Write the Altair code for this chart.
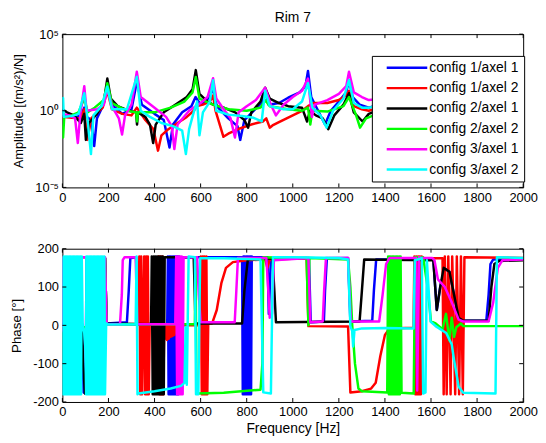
import altair as alt
import pandas as pd

SERIES = ["config 1/axel 1", "config 1/axel 2", "config 2/axel 1",
          "config 2/axel 2", "config 3/axel 1", "config 3/axel 2"]
COLORS = ["#0000ff", "#ff0000", "#000000", "#00ff00", "#ff00ff", "#00ffff"]

X_TICKS = [0, 200, 400, 600, 800, 1000, 1200, 1400, 1600, 1800, 2000]
AMP_TICKS = [1e-5, 1, 1e5]
PHASE_TICKS = [-200, -100, 0, 100, 200]

# ---------------- amplitude (m/s^2)/N ----------------
blue_amp_f = [0,30,60,80,95,105,125,138,150,175,195,215,260,300,323,345,400,440,465,480,
              520,560,578,600,640,654,670,720,760,772,790,830,870,880,895,940,980,1030,1055,1066,
              1080,1110,1140,1165,1200,1232,1244,1260,1290,1330,1400,1500,1600,1700,1800,1900,1960,2000]
blue_amp_v = [0.5,0.45,0.4,0.5,1.6,0.4,0.25,0.005,0.32,2.0,40,2.5,0.63,1.26,79,2.5,0.63,0.25,0.004,0.126,
              0.79,2.0,7.9,2.5,7.9,32,2.0,0.32,0.1,0.0126,0.25,1.0,4.0,20,2.5,3.2,7.1,16,40,400,
              7.9,1.0,0.126,1.0,4.0,16,100,7.9,2.5,1.6,3.2,6.3,3.2,4.0,6.3,10,12.6,16]

red_amp_f = [0,40,80,95,109,125,175,195,215,260,300,323,360,395,415,430,460,500,540,570,
             585,610,640,654,665,685,699,720,770,820,870,885,900,912,940,1000,1040,1066,1090,1150,
             1200,1232,1244,1265,1300,1330,1400,1500,1600,1700,1800,1900,2000]
red_amp_v = [0.4,0.35,0.32,1.26,0.0126,0.32,1.6,20,1.26,0.63,0.5,1.6,0.25,0.063,0.0025,0.025,0.063,0.16,0.4,1.0,
             2.0,2.5,4.0,10,1.0,0.1,0.02,0.032,0.07,0.126,0.2,0.32,0.079,0.11,0.18,0.5,1.0,2.0,3.2,3.2,
             5.0,10,20,2.0,1.26,1.0,2.0,4.0,2.5,4.0,6.3,10,12.6]

black_amp_f = [0,20,50,80,95,102,115,150,180,195,210,240,290,320,324,328,360,380,394,405,
               440,490,540,565,579,595,630,654,700,750,790,806,820,860,880,900,940,980,1040,1062,
               1075,1100,1130,1154,1180,1220,1244,1265,1303,1330,1400,1500,1600,1700,1800,1900,2000]
black_amp_v = [1.26,0.79,0.5,0.16,0.63,0.0126,0.16,0.63,4.0,126,6.3,2.0,1.0,0.79,0.126,0.79,0.4,0.126,0.0079,0.126,
               0.79,2.5,7.9,25,450,12.6,4.0,2.5,1.6,0.79,0.25,0.079,0.79,4.0,32,6.3,3.2,2.0,1.6,0.2,
               1.0,0.5,0.32,0.063,0.5,2.5,14,0.79,0.2,0.63,1.6,3.2,2.0,3.2,5.0,7.9,12.6]

green_amp_f = [0,3,8,40,70,95,110,140,180,195,215,280,320,324,328,400,470,530,565,579,
               595,654,720,800,860,880,900,980,1040,1066,1076,1085,1150,1220,1244,1275,1292,1318,1400,1500,
               1600,1700,1800,1900,2000]
green_amp_v = [0.126,0.018,0.4,0.5,0.79,6.3,0.79,1.6,5.0,63,3.2,1.0,0.79,0.2,0.79,0.79,1.6,4.0,16,160,
               6.3,2.5,1.26,1.0,1.6,5.0,2.0,1.26,1.0,1.6,0.126,1.0,0.89,2.0,7.9,0.5,0.079,0.32,1.0,1.6,
               1.26,2.0,2.5,3.2,4.0]

magenta_amp_f = [0,30,55,67,78,95,105,150,180,195,215,245,259,272,300,323,340,400,450,475,
                 486,500,550,600,630,654,668,700,730,749,765,800,840,880,905,927,960,1000,1040,1066,
                 1083,1095,1150,1200,1232,1244,1265,1300,1330,1400,1500,1600,1700,1800,1900,2000]
magenta_amp_v = [0.63,0.5,0.32,0.0079,0.63,40,1.0,1.26,2.5,30,2.0,0.32,0.028,0.5,2.5,355,7.9,1.6,0.4,0.1,
                 0.0032,0.126,1.0,3.2,7.9,132,6.3,1.26,0.32,0.018,0.79,2.0,5.0,32,2.5,0.5,2.5,7.9,20,126,
                 0.4,2.5,5.0,12.6,40,355,16,7.9,5.0,6.3,7.9,5.0,6.3,7.9,10,10]

cyan_amp_f = [0,3,6,40,70,95,108,124,135,170,195,215,280,323,340,380,430,480,520,536,
              550,570,585,595,610,640,654,668,720,780,830,865,880,900,960,1000,1040,1066,1085,1120,
              1147,1175,1220,1244,1265,1300,1330,1400,1500,1600,1700,1800,1900,2000]
cyan_amp_v = [0.4,6.8,0.4,0.45,0.63,14,0.4,0.0015,0.5,2.0,38,1.26,1.26,166,1.0,0.4,0.16,0.1,0.05,0.0015,
              0.063,0.79,4.0,0.025,0.79,4.0,100,1.0,0.56,0.45,0.35,0.2,20,2.0,1.26,1.26,4.0,63,1.6,0.5,
              0.079,1.0,6.3,100,3.2,1.6,1.6,2.5,4.0,3.2,4.0,5.0,6.3,7.9]

# ---------------- phase (deg) ----------------
blue_ph_f = [0,85,92,100,105,185,192,280,288,295,320,325,455,
             458,461,464,467,470,473,476,479,482,485,488,491,494,497,500,503,506,
             510,780,
             783,786,789,792,795,798,801,804,807,810,813,816,819,822,
             826,890,896,905,1070,1078,1135,1140,1148,1240,1250,1345,1352,1362,1610,1625,1640,1660,
             1680,1700,1720,1740,1840,1850,1858,1870,2000]
blue_ph_v = [5,5,-175,-178,178,175,5,8,90,175,178,5,3,
             180,-180,180,-180,180,-180,180,-180,180,-180,180,-180,180,-180,180,-180,180,
             178,178,
             -180,180,-180,180,-180,180,-180,180,-180,180,-180,180,-180,180,
             178,178,30,175,176,8,10,90,175,176,10,12,90,172,172,40,100,148,
             140,80,20,12,12,80,160,172,175]

red_ph_f = [0,11,12,13,117,119,121,185,192,330,
            334,338,342,346,350,355,359,363,367,371,375,379,
            415,418,422,426,430,434,438,442,
            446,450,454,458,462,466,470,474,478,482,486,490,494,498,
            505,598,601,605,609,613,617,621,625,629,633,650,670,690,710,740,800,880,890,900,
            1060,1068,1240,1250,1300,1340,1360,1380,1400,1420,1524,
            1528,1532,1536,1540,1544,1548,1552,1556,1560,
            1566,1650,
            1655,1660,1668,1675,1685,1692,1705,1712,1722,1730,1738,
            1745,2000]
red_ph_v = [178,178,-178,178,178,-178,178,175,3,2,
            180,-180,180,-180,2,180,-180,180,-180,180,-180,2,
            2,180,-180,180,-180,180,-180,0,
            -35,0,-38,0,-35,-2,-30,0,-28,0,-25,0,-20,0,
            0,0,180,-180,180,-180,180,-180,180,-180,5,5,40,110,150,165,170,172,150,172,
            175,-2,-3,-175,-172,-165,-150,-80,-25,-8,-6,
            180,-180,180,-180,180,-180,180,-180,180,
            175,175,
            -180,180,-180,180,-180,180,-180,180,-180,180,-180,
            178,176]

black_ph_f = [0,85,90,98,108,110,185,192,385,
              388,392,396,400,404,408,412,416,420,424,428,432,436,440,
              444,570,578,780,790,805,912,920,927,1290,1300,1310,1610,1625,1640,1655,1680,1700,
              1720,1740,1850,1862,1875,1895,2000]
black_ph_v = [3,3,-100,-178,-178,178,175,5,3,
              180,-180,180,-180,180,-180,180,-180,180,-180,180,-180,180,-180,
              178,178,5,5,90,172,175,90,8,10,90,172,170,40,100,150,140,80,
              20,12,12,100,160,168,170]

green_ph_f = [0,113,115,118,121,185,192,575,578,582,700,860,868,872,1000,1060,1065,1068,1072,1240,
              1250,1258,1270,1285,1300,1410,
              1414,1417,1420,1423,1426,1429,1432,1435,1438,1441,1444,1447,1450,1453,1456,1459,1462,1465,1468,
              1472,1525,1531,1566,1585,1600,1620,1650,1665,1680,1690,1700,1710,1730,1740,2000]
green_ph_v = [-5,-5,-178,178,178,175,3,3,178,-178,-176,-168,-100,178,176,176,60,0,176,172,
              100,0,-100,-165,-172,-175,
              180,-180,180,-180,180,-180,180,-180,180,-180,180,-180,180,-180,180,-180,180,-180,180,
              -176,-178,178,178,100,10,5,-10,30,-40,20,-30,-5,5,-2,-2]

magenta_ph_f = [0,2,4,185,192,250,258,262,270,318,325,490,
                494,498,502,506,510,514,518,522,
                526,585,592,600,748,755,762,885,893,900,910,918,1068,1076,1130,1136,1144,1240,1252,1375,
                1390,1405,1420,1535,1540,1548,1556,1605,1615,1630,1660,1690,1720,1740,1850,1870,1890,1910,2000]
magenta_ph_v = [-15,-15,178,178,3,3,80,170,178,178,3,3,
                180,-180,180,-180,180,-180,180,-180,
                178,178,80,8,8,90,176,176,100,20,30,170,176,8,10,90,176,176,10,10,
                80,160,176,176,-170,178,176,176,170,120,100,60,15,10,10,60,150,170,172]

cyan_ph_f = [0,3,6,9,12,15,18,21,24,27,30,33,36,39,42,45,48,51,54,57,60,63,66,69,72,75,78,81,84,
             88,95,100,103,
             104,107,110,113,116,119,122,125,128,131,134,137,140,143,146,149,152,155,158,161,164,167,170,173,176,179,182,185,
             190,200,318,322,326,330,400,470,515,530,535,540,548,575,580,590,598,700,860,872,
             905,914,1000,1200,1240,1250,1258,1262,1268,1300,1400,1524,1530,1560,1566,1576,1582,1598,1620,1666,
             1690,1700,1720,1740,1880,1886,2000]
cyan_ph_v = [180,-180,180,-180,180,-180,180,-180,180,-180,180,-180,180,-180,180,-180,180,-180,180,-180,180,-180,180,-180,180,-180,180,-180,180,
             5,-20,-60,-180,
             180,-180,180,-180,180,-180,180,-180,180,-180,180,-180,180,-180,180,-180,180,-180,180,-180,180,-180,180,-180,180,-180,180,-180,
             5,2,2,180,-180,-178,-172,-165,-158,-150,-5,-155,180,178,-180,-180,175,175,172,-175,
             -178,178,178,176,172,-2,-15,-55,-12,-8,-7,-8,170,175,-178,-175,170,10,-2,-20,
             -50,-90,-160,-176,-178,178,176]

AMP_SETS = [(blue_amp_f, blue_amp_v), (red_amp_f, red_amp_v), (black_amp_f, black_amp_v),
            (green_amp_f, green_amp_v), (magenta_amp_f, magenta_amp_v), (cyan_amp_f, cyan_amp_v)]
PH_SETS = [(blue_ph_f, blue_ph_v), (red_ph_f, red_ph_v), (black_ph_f, black_ph_v),
           (green_ph_f, green_ph_v), (magenta_ph_f, magenta_ph_v), (cyan_ph_f, cyan_ph_v)]


def build(sets):
    rows = []
    for k, (fs, vs) in enumerate(sets):
        for i, (f, v) in enumerate(zip(fs, vs)):
            rows.append({"series": SERIES[k], "k": k, "i": i, "f": f, "v": v})
    return pd.DataFrame(rows)


amp_df = build(AMP_SETS)
ph_df = build(PH_SETS)
xt_df = pd.DataFrame({"f": X_TICKS})
at_df = pd.DataFrame({"v": AMP_TICKS})
pt_df = pd.DataFrame({"v": PHASE_TICKS})

W, H = 466, 155
FONT = "Liberation Sans"
AX = dict(labelFont=FONT, titleFont=FONT, labelColor="black", titleColor="black",
          labelFontSize=13, titleFontWeight="normal",
          ticks=False, domain=False, grid=False, labelPadding=4)

x_scale = alt.Scale(domain=[0, 2000], nice=False, zero=False)
amp_scale = alt.Scale(type="log", domain=[1e-5, 1e5], nice=False)
ph_scale = alt.Scale(domain=[-200, 200], nice=False)
color_scale = alt.Scale(domain=SERIES, range=COLORS)

top_x_axis = alt.Axis(values=X_TICKS, format="d", title=None, labelFlush=False, **AX)
bot_x_axis = alt.Axis(values=X_TICKS, format="d", title="Frequency [Hz]", labelFlush=False,
                      titlePadding=3, titleFontSize=14, **AX)
amp_axis = alt.Axis(values=AMP_TICKS, title="Amplitude [(m/s²)/N]",
                    labelExpr="datum.value > 1000 ? '10⁵' : (datum.value > 0.01 ? '10⁰' : '10⁻⁵')",
                    minExtent=30, maxExtent=30, titlePadding=7, titleFontSize=13, **AX)
ph_axis = alt.Axis(values=PHASE_TICKS, title="Phase [°]", labelExpr="datum.value + ''",
                   minExtent=30, maxExtent=30, titlePadding=9, titleFontSize=13.5, **AX)

legend = alt.Legend(title=None, orient="none", legendX=313, legendY=22, direction="vertical",
                    symbolType="M-4.1,0H4.1", symbolSize=100, symbolStrokeWidth=2.5,
                    symbolOffset=23.5, labelOffset=15.5, padding=5, rowPadding=6.6,
                    labelFontSize=14, labelFont=FONT, labelColor="black", labelLimit=300,
                    strokeColor="black", fillColor="white", cornerRadius=0)


def panel(df, y_scale, x_axis, y_axis, color_legend, xt, yt):
    lines = alt.Chart(df).mark_line(strokeWidth=2.5, clip=True, strokeJoin="round").encode(
        x=alt.X("f:Q", scale=x_scale, axis=x_axis),
        y=alt.Y("v:Q", scale=y_scale, axis=y_axis),
        color=alt.Color("series:N", scale=color_scale, legend=color_legend),
        detail="k:N",
        order="i:Q",
    )
    layers = [lines]
    for y0, y1 in [(0, 4), (H, H - 4)]:
        layers.append(alt.Chart(xt).mark_rule(color="black", strokeWidth=1).encode(
            x=alt.X("f:Q", scale=x_scale, axis=x_axis),
            y=alt.value(y0), y2=alt.value(y1)))
    for x0, x1 in [(0, 4), (W, W - 4)]:
        layers.append(alt.Chart(yt).mark_rule(color="black", strokeWidth=1).encode(
            y=alt.Y("v:Q", scale=y_scale, axis=y_axis),
            x=alt.value(x0), x2=alt.value(x1)))
    return alt.layer(*layers)


top = panel(amp_df, amp_scale, top_x_axis, amp_axis, legend, xt_df, at_df).properties(
    width=W, height=H,
    title=alt.TitleParams("Rim 7", fontSize=14, fontWeight="normal", font=FONT,
                          offset=3, anchor="middle", color="black", frame="group"))

bottom = panel(ph_df, ph_scale, bot_x_axis, ph_axis, None, xt_df, pt_df).properties(
    width=W, height=H)

chart = alt.vconcat(top, bottom, spacing=37).resolve_scale(
    color="independent").resolve_legend(color="independent").properties(
    padding={"left": 1, "top": 0, "right": 0, "bottom": 0},
    background="white"
).configure_view(stroke="black", strokeWidth=1)

chart.save("out.html", embed_options={"renderer": "svg", "actions": False})
